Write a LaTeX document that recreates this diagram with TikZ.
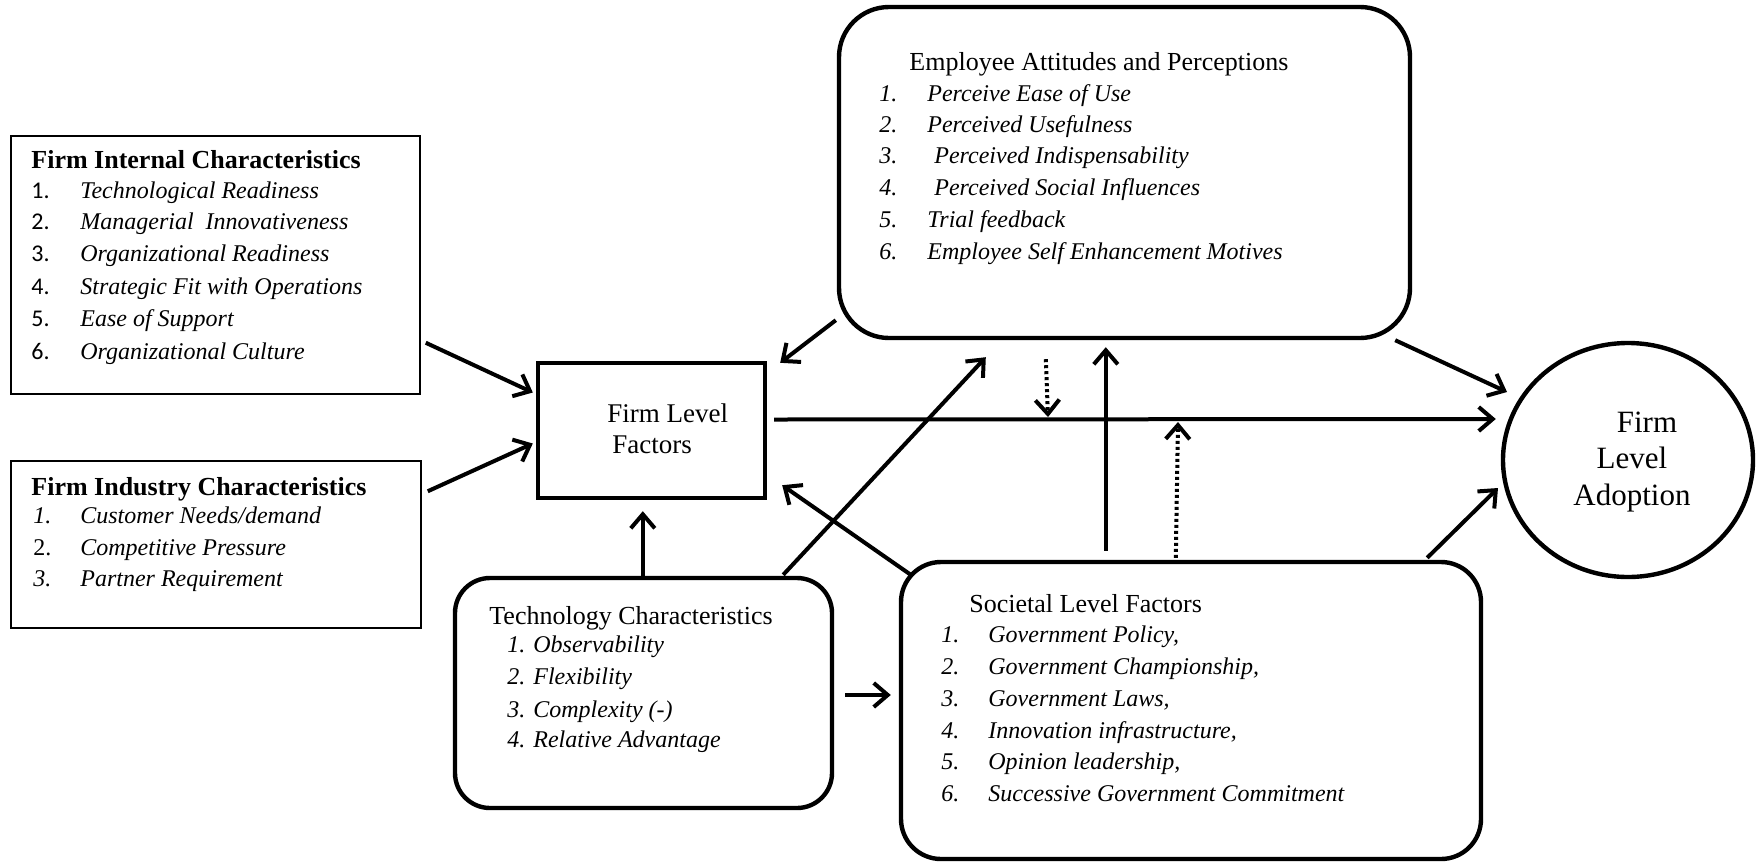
\documentclass[tikz,border=0pt]{standalone}
\usepackage{fontspec}
\setmainfont{Liberation Serif}[ItalicFont={Liberation Serif Italic},BoldFont={Liberation Serif Bold}]
\newfontfamily\calnum{Carlito}
\usetikzlibrary{arrows.meta,shapes.geometric,fit,calc}
\begin{document}
\begin{tikzpicture}[x=0.5pt,y=-0.5pt,
  thinbox/.style={draw,line width=0.75pt,inner sep=0pt},
  sqbox/.style={draw,line width=2.2pt,inner sep=0pt},
  rbox/.style={draw,line width=2.2pt,inner sep=0pt,rounded corners=#1},
  lbl/.style={anchor=west,inner sep=0pt,text height=0.7em,text depth=0.2em,font=\fontsize{12}{14}\selectfont},
  snum/.style={lbl,font=\calnum\fontsize{12}{14}\selectfont},
  ttl/.style={lbl,font=\fontsize{13}{15}\selectfont},
  bttl/.style={lbl,font=\fontsize{13}{15}\selectfont\bfseries},
  itm/.style={lbl,font=\fontsize{12}{14}\selectfont\itshape},
  big/.style={inner sep=0pt,text height=0.7em,text depth=0.2em,font=\fontsize{15.5}{18}\selectfont},
  arr/.style={line width=2pt,-{Straight Barb[length=7pt,width=12pt]}},
  dotarr/.style={arr,dash pattern=on 1.5pt off 1.5pt}
]
\useasboundingbox (0,0) rectangle (1756,863);

% ---------- boxes ----------
\node[thinbox,fit={(11,136)(420,394)}] (fic) {};
\node[thinbox,fit={(11,461)(421,628)}] (fii) {};
\node[sqbox,fit={(538,363)(765,498)}] (flf) {};
\node[rbox=17.5pt,fit={(455,578)(832,808)}] (tech) {};
\node[rbox=20pt,fit={(901,562)(1481,859)}] (soc) {};
\node[rbox=25pt,fit={(839,7)(1410,338)}] (emp) {};
\node[draw,ellipse,line width=2.2pt,inner sep=0pt,minimum width=125pt,minimum height=117pt] (fla) at (1628,460) {};

% ---------- Firm Internal Characteristics ----------
\node[bttl] (fic-t) at (31,163) {Firm Internal Characteristics};
\node[snum] (fic-n1) at (31,193) {1.};
\node[itm]  (fic-1)  at (80,193) {Technological Readiness};
\node[snum] (fic-n2) at (31,224) {2.};
\node[itm]  (fic-2)  at (80,224) {Managerial~ Innovativeness};
\node[snum] (fic-n3) at (31,256) {3.};
\node[itm]  (fic-3)  at (80,256) {Organizational Readiness};
\node[snum] (fic-n4) at (31,289) {4.};
\node[itm]  (fic-4)  at (80,289) {Strategic Fit with Operations};
\node[snum] (fic-n5) at (31,321) {5.};
\node[itm]  (fic-5)  at (80,321) {Ease of Support};
\node[snum] (fic-n6) at (31,354) {6.};
\node[itm]  (fic-6)  at (80,354) {Organizational Culture};

% ---------- Firm Industry Characteristics ----------
\node[bttl] (fii-t) at (31,490) {Firm Industry Characteristics};
\node[itm]  (fii-n1) at (33,518) {1.};
\node[itm]  (fii-1)  at (80,518) {Customer Needs/demand};
\node[lbl]  (fii-n2) at (33,550) {2.};
\node[itm]  (fii-2)  at (80,550) {Competitive Pressure};
\node[itm]  (fii-n3) at (33,581) {3.};
\node[itm]  (fii-3)  at (80,581) {Partner Requirement};

% ---------- Firm Level Factors ----------
\node[ttl,font=\fontsize{13.5}{16}\selectfont] (flf-1) at (607,417) {Firm Level};
\node[ttl,font=\fontsize{13.5}{16}\selectfont] (flf-2) at (612,448) {Factors};

% ---------- Technology Characteristics ----------
\node[ttl] (tech-t) at (489,619) {Technology Characteristics};
\node[itm] (tech-1) at (507,647) {1. Observability};
\node[itm] (tech-2) at (507,679) {2. Flexibility};
\node[itm] (tech-3) at (507,712) {3. Complexity (-)};
\node[itm] (tech-4) at (507,742) {4. Relative Advantage};

% ---------- Employee Attitudes ----------
\node[ttl] (emp-t) at (909,65) {Employee Attitudes and Perceptions};
\node[itm] (emp-n1) at (879,96) {1.};
\node[itm] (emp-1)  at (927,96) {Perceive Ease of Use};
\node[itm] (emp-n2) at (879,127) {2.};
\node[itm] (emp-2)  at (927,127) {Perceived Usefulness};
\node[itm] (emp-n3) at (879,158) {3.};
\node[itm] (emp-3)  at (934,158) {Perceived Indispensability};
\node[itm] (emp-n4) at (879,190) {4.};
\node[itm] (emp-4)  at (934,190) {Perceived Social Influences};
\node[itm] (emp-n5) at (879,222) {5.};
\node[itm] (emp-5)  at (927,222) {Trial feedback};
\node[itm] (emp-n6) at (879,254) {6.};
\node[itm] (emp-6)  at (927,254) {Employee Self Enhancement Motives};

% ---------- Societal Level Factors ----------
\node[ttl] (soc-t) at (969,607) {Societal Level Factors};
\node[itm] (soc-n1) at (941,637) {1.};
\node[itm] (soc-1)  at (988,637) {Government Policy,};
\node[itm] (soc-n2) at (941,669) {2.};
\node[itm] (soc-2)  at (988,669) {Government Championship,};
\node[itm] (soc-n3) at (941,701) {3.};
\node[itm] (soc-3)  at (988,701) {Government Laws,};
\node[itm] (soc-n4) at (941,733) {4.};
\node[itm] (soc-4)  at (988,733) {Innovation infrastructure,};
\node[itm] (soc-n5) at (941,764) {5.};
\node[itm] (soc-5)  at (988,764) {Opinion leadership,};
\node[itm] (soc-n6) at (941,796) {6.};
\node[itm] (soc-6)  at (988,796) {Successive Government Commitment};

% ---------- Firm Level Adoption ----------
\node[big] (fla-1) at (1647,427) {Firm};
\node[big] (fla-2) at (1632,463) {Level};
\node[big] (fla-3) at (1632,500) {Adoption};

% ---------- connectors ----------
\coordinate (m1) at (1048,417);
\coordinate (m2) at (1178,422);
\draw[arr] ($(fic.south east)+(5,-52)$) -- ($(flf.west)+(-3,-38)$);
\draw[arr] ($(fii.north east)+(6,31)$) -- ($(flf.west)+(-3,13)$);
\draw[arr] ($(tech.north west)+(190,0)$) -- ($(flf.south west)+(107,11)$);
\draw[arr] ($(tech.east)+(11,2)$) -- ($(soc.west)+(-8,-15.5)$);
\draw[arr] ($(emp.south west)+(-1,-20)$) -- ($(flf.north east)+(13,2)$);
\draw[arr] ($(flf.east)+(7,-11)$) -- ($(fla.west)+(-5,-41)$);
\draw[dotarr] ($(emp.south west)+(209,19)$) -- (m1);
\draw[arr] ($(soc.north west)+(207,-9)$) -- ($(emp.south west)+(269,7)$);
\draw[dotarr] ($(soc.north west)+(277,-2)$) -- (m2);
\draw[arr] ($(tech.north east)+(-51,-1)$) -- ($(emp.south west)+(149,17)$);
\draw[arr] ($(soc.north west)+(12,15)$) -- ($(flf.south east)+(15,-15)$);
\draw[arr] ($(emp.south east)+(-17,0)$) -- ($(fla.center)+(-121,-68)$);
\draw[arr] ($(soc.north east)+(-56,-2)$) -- ($(fla.center)+(-130,28)$);
\end{tikzpicture}
\end{document}
